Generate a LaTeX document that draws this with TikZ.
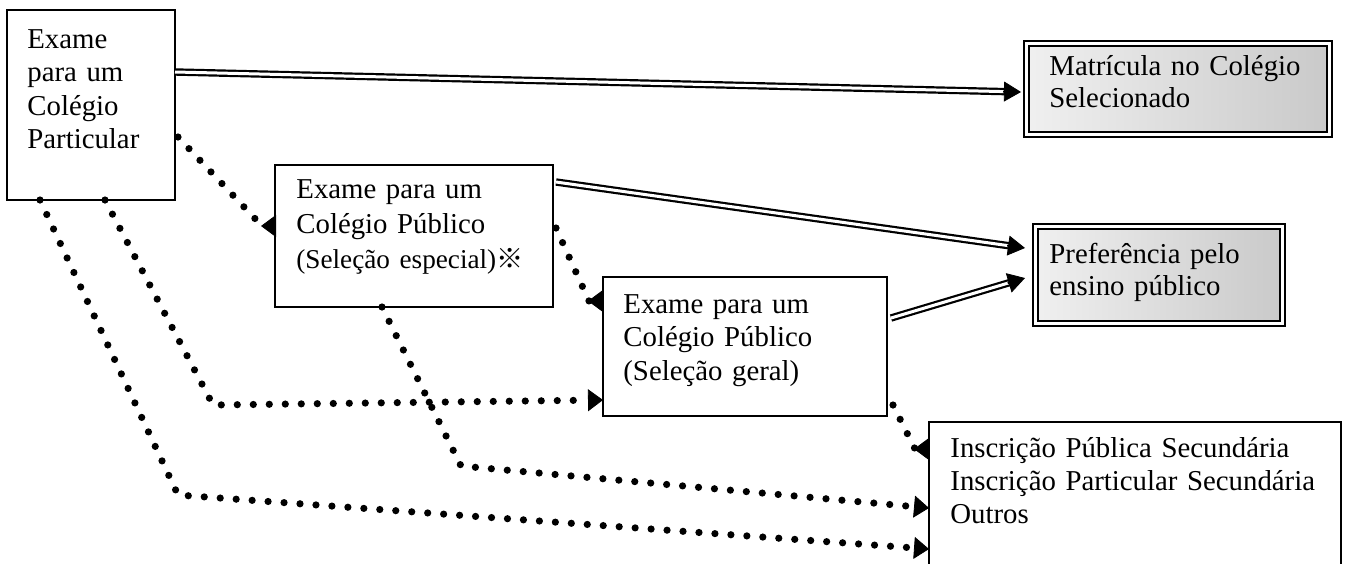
\documentclass[tikz,border=0pt]{standalone}
\usepackage{fontspec}
\setmainfont{Liberation Serif}
\newfontfamily\cjk{Noto Sans CJK JP}
\usetikzlibrary{arrows.meta,calc}
\begin{document}
\begin{tikzpicture}[x=0.5pt,y=-0.5pt,
	box/.style={draw,line width=0.9pt,inner sep=0pt,outer sep=0pt},
	dblbox/.style={draw,double,line width=0.9pt,double distance=1.5pt,inner sep=0pt,outer sep=0pt,left color=gray!12,right color=gray!42},
	txt/.style={anchor=base west,inner sep=0pt,text width=220pt,align=left},
	dbl/.style={double,line width=1.1pt,double distance=1.5pt,shorten >=7pt},
	dbltip/.style={line width=1pt,-{Triangle[length=8.5pt,width=10pt,line width=0.4pt]}},
	dotline/.style={line width=3.6pt,line cap=round,dash pattern=on 0pt off 8pt},
	dottip/.style={dotline,-{Triangle[length=7.5pt,width=11pt,line width=0.4pt]}},
	revtip/.style={dotline,-{Triangle[length=7.5pt,width=11pt,line width=0.4pt,reversed]}}]
	\clip(0,0)rectangle(1348,563);
	\fill[white](0,0)rectangle(1348,563);
	\node[box,minimum width=84pt,minimum height=95pt](exPart)at(91,105){};
	\node[box,minimum width=139pt,minimum height=71pt](exEsp)at(414,236){};
	\node[box,minimum width=142pt,minimum height=69.5pt](exGeral)at(745,346.5){};
	\node[box,minimum width=206pt,minimum height=109pt](inscr)at(1135,531){};
	\node[dblbox,minimum width=151.5pt,minimum height=45.5pt](matric)at(1178,89){};
	\node[dblbox,minimum width=123.5pt,minimum height=48.5pt](pref)at(1159,275){};
	\node[txt,font=\fontsize{14.4}{16.75}\selectfont](exPart-t)at(27,48){Exame\\para um\\Colégio\\Particular};
	\node[txt,font=\fontsize{14.4}{17.5}\selectfont](exEsp-t)at(296,198){Exame para um\\Colégio Público\\{\fontsize{13.6}{17.5}\selectfont(Seleção especial)\cjk ※}};
	\node[txt,font=\fontsize{14.4}{16.75}\selectfont](exGeral-t)at(623,313){Exame para um\\Colégio Público\\(Seleção geral)};
	\node[txt,font=\fontsize{14.4}{16.5}\selectfont](inscr-t)at(950,457){Inscrição Pública Secundária\\Inscrição Particular Secundária\\Outros};
	\node[txt,font=\fontsize{14.4}{16}\selectfont](matric-t)at(1049,75){Matrícula no Colégio\\Selecionado};
	\node[txt,font=\fontsize{14.4}{16}\selectfont](pref-t)at(1049,263){Preferência pelo\\ensino público};
	\coordinate(a1)at([yshift=16.5pt]exPart.east);
	\coordinate(m1)at([xshift=-2.75pt,yshift=-1.5pt]matric.west);
	\coordinate(b1)at([xshift=1.5pt,yshift=27pt]exEsp.east);
	\coordinate(p1)at([xshift=-5.25pt,yshift=13.5pt]pref.west);
	\coordinate(c1)at([xshift=2pt,yshift=14.25pt]exGeral.east);
	\coordinate(p2)at([xshift=-5.25pt,yshift=-1.5pt]pref.west);
	\draw[dbl](a1)--(m1);
	\draw[dbltip]($(m1)!9pt!(a1)$)--(m1);
	\draw[dbl](b1)--(p1);
	\draw[dbltip]($(p1)!9pt!(b1)$)--(p1);
	\draw[dbl](c1)--(p2);
	\draw[dbltip]($(p2)!9pt!(c1)$)--(p2);
	\coordinate(e1)at([xshift=0.5pt,yshift=5pt]exEsp.west);
	\coordinate(e2)at([yshift=22.75pt]exGeral.west);
	\coordinate(e3)at([yshift=41pt]inscr.west);
	\draw[revtip]([xshift=1.5pt,yshift=-16pt]exPart.east)--([xshift=-7pt]e1)--(e1);
	\draw[revtip]([xshift=1.5pt,yshift=4pt]exEsp.east)--([xshift=-7pt]e2)--(e2);
	\draw[revtip]([xshift=3pt,yshift=-29.25pt]exGeral.east)--([xshift=-7pt]e3)--(e3);
	\coordinate(k1)at(213,405);
	\coordinate(k2)at(178,495);
	\coordinate(k3)at(461,466);
	\draw[dottip]([xshift=7pt]exPart.south)--(k1)--([yshift=-26.75pt]exGeral.west);
	\draw[dottip]([xshift=-25.5pt]exPart.south)--(k2)--([yshift=-9pt]inscr.west);
	\draw[dottip]([xshift=-16pt]exEsp.south)--(k3)--([yshift=11.5pt]inscr.west);
\end{tikzpicture}
\end{document}
